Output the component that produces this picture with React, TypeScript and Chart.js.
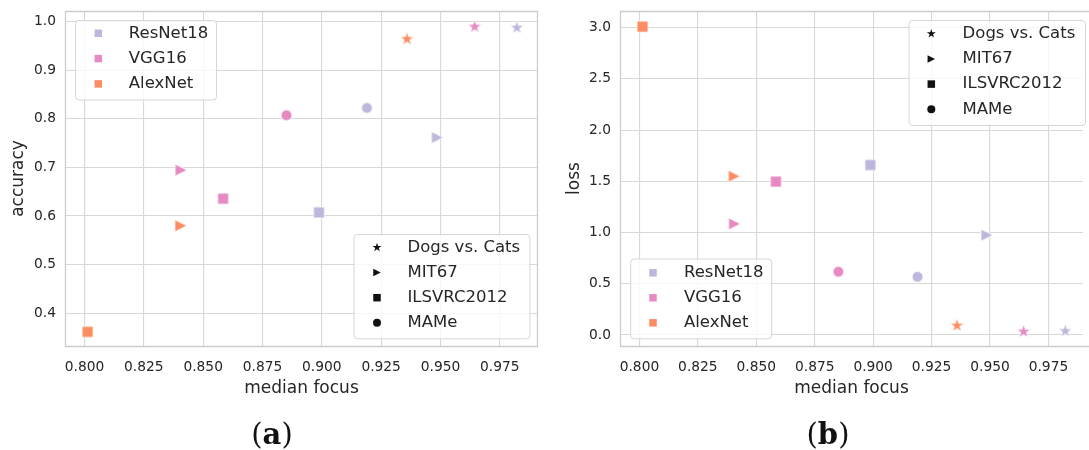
import React, { useEffect, useRef } from 'react';
import { Chart, registerables } from 'chart.js';

Chart.register(...registerables);

// ---------- data ----------
const modelNames = ['ResNet18', 'VGG16', 'AlexNet'];
const modelColors = ['#bcb8dc', '#e78ac3', '#fc8d62'];
const datasetNames = ['Dogs vs. Cats', 'MIT67', 'ILSVRC2012', 'MAMe'];
const datasetMarkers = ['star', 'triangleRight', 'square', 'circle'];

// values ordered like datasetNames (AlexNet has no MAMe run)
const resnetFocus = [0.9822, 0.9487, 0.8988, 0.919];
const vggFocus = [0.9644, 0.8407, 0.8584, 0.8851];
const alexFocus = [0.9359, 0.8406, 0.8013];

const resnetAccuracy = [0.9877, 0.7616, 0.6075, 0.8226];
const vggAccuracy = [0.9897, 0.6945, 0.6357, 0.8075];
const alexAccuracy = [0.9643, 0.58, 0.3616];

const resnetLoss = [0.039, 0.974, 1.659, 0.568];
const vggLoss = [0.0325, 1.085, 1.497, 0.617];
const alexLoss = [0.091, 1.549, 3.01];

const focusTicks = [0.8, 0.825, 0.85, 0.875, 0.9, 0.925, 0.95, 0.975];
const accuracyTicks = [0.4, 0.5, 0.6, 0.7, 0.8, 0.9, 1.0];
const lossTicks = [0, 0.5, 1.0, 1.5, 2.0, 2.5, 3.0];

// ---------- styles ----------
const FONT = '"DejaVu Sans", "Noto Sans", sans-serif';
const TEXT = '#262626';
const GRID = '#d8d8d8';
const FRAME = '#cccccc';
const TICK_SIZE = 13.8;
const pointSize: Record<string, number> = { star: 15, triangleRight: 12, square: 11, circle: 10.8 };
const legendSize: Record<string, number> = { star: 9.5, triangleRight: 7.5, square: 7.5, circle: 8 };

function tracePath(ctx: CanvasRenderingContext2D, shape: string, cx: number, cy: number, ms: number) {
  const r = ms / 2;
  ctx.beginPath();
  if (shape === 'circle') {
    ctx.arc(cx, cy, r, 0, Math.PI * 2);
  } else if (shape === 'square') {
    ctx.rect(cx - r, cy - r, ms, ms);
  } else if (shape === 'triangleRight') {
    ctx.moveTo(cx + r, cy);
    ctx.lineTo(cx - r, cy - r);
    ctx.lineTo(cx - r, cy + r);
    ctx.closePath();
  } else {
    const inner = r * 0.381966;
    for (let i = 0; i < 10; i++) {
      const rad = i % 2 === 0 ? r : inner;
      const a = -Math.PI / 2 + (i * Math.PI) / 5;
      const px = cx + rad * Math.cos(a);
      const py = cy + rad * Math.sin(a);
      if (i === 0) ctx.moveTo(px, py);
      else ctx.lineTo(px, py);
    }
    ctx.closePath();
  }
}

function makeMarker(shape: string, color: string, ms: number, edge: number): HTMLCanvasElement {
  const size = Math.ceil(ms + edge * 2 + 4);
  const c = document.createElement('canvas');
  c.width = size;
  c.height = size;
  const ctx = c.getContext('2d')!;
  tracePath(ctx, shape, size / 2, size / 2, ms);
  ctx.fillStyle = color;
  ctx.fill();
  if (edge > 0) {
    ctx.lineWidth = edge;
    ctx.strokeStyle = '#ffffff';
    ctx.stroke();
  }
  return c;
}

function buildDatasets(focusLists: number[][], valueLists: number[][]) {
  return modelNames.map((name, m) => ({
    label: name,
    data: focusLists[m].map((x, i) => ({ x, y: valueLists[m][i] })),
    pointStyle: focusLists[m].map((_, i) =>
      makeMarker(datasetMarkers[i], modelColors[m], pointSize[datasetMarkers[i]], 0.8)
    ),
    pointRadius: 5,
    pointHoverRadius: 5,
    showLine: false,
  }));
}

type LegendBox = {
  left: number; top: number; right: number; bottom: number;
  markerX: number; textX: number; firstY: number; gap: number;
  items: { label: string; shape: string; color: string }[];
};

function roundRect(ctx: CanvasRenderingContext2D, x: number, y: number, w: number, h: number, r: number) {
  ctx.beginPath();
  ctx.moveTo(x + r, y);
  ctx.arcTo(x + w, y, x + w, y + h, r);
  ctx.arcTo(x + w, y + h, x, y + h, r);
  ctx.arcTo(x, y + h, x, y, r);
  ctx.arcTo(x, y, x + w, y, r);
  ctx.closePath();
}

function overlayPlugin(boxes: LegendBox[], rightFrame: boolean) {
  return {
    id: 'overlay',
    afterDatasetsDraw(chart: any) {
      const ctx: CanvasRenderingContext2D = chart.ctx;
      const ca = chart.chartArea;
      ctx.save();
      ctx.strokeStyle = FRAME;
      ctx.lineWidth = 1.3;
      ctx.beginPath();
      const l = Math.round(ca.left) + 0.5;
      const t = Math.round(ca.top) + 0.5;
      const b = Math.round(ca.bottom) + 0.5;
      const r = rightFrame ? Math.round(ca.right) - 0.5 : chart.width + 2;
      ctx.moveTo(r, t);
      ctx.lineTo(l, t);
      ctx.lineTo(l, b);
      ctx.lineTo(r, b);
      if (rightFrame) ctx.closePath();
      ctx.stroke();

      for (const bx of boxes) {
        roundRect(ctx, bx.left + 0.5, bx.top + 0.5, bx.right - bx.left, bx.bottom - bx.top, 3.5);
        ctx.fillStyle = 'rgba(255,255,255,0.82)';
        ctx.fill();
        ctx.strokeStyle = '#d6d6d6';
        ctx.lineWidth = 1;
        ctx.stroke();
        bx.items.forEach((it, i) => {
          const y = bx.firstY + i * bx.gap;
          tracePath(ctx, it.shape, bx.markerX, y, legendSize[it.shape]);
          ctx.fillStyle = it.color;
          ctx.fill();
          ctx.font = `16.5px ${FONT}`;
          ctx.fillStyle = TEXT;
          ctx.textAlign = 'left';
          ctx.textBaseline = 'middle';
          ctx.fillText(it.label, bx.textX, y);
        });
      }
      ctx.restore();
    },
  };
}

const modelItems = () => modelNames.map((label, i) => ({ label, shape: 'square', color: modelColors[i] }));
const datasetItems = () => datasetNames.map((label, i) => ({ label, shape: datasetMarkers[i], color: '#111111' }));

function makeConfig(opts: {
  values: number[][]; yTicks: number[]; yTitle: string; yMin: number; yMax: number;
  xMin: number; xMax: number; yWidth: number; padRight: number; titlePad: number;
  boxes: LegendBox[]; rightFrame: boolean;
}): any {
  return {
    type: 'scatter',
    data: { datasets: buildDatasets([resnetFocus, vggFocus, alexFocus], opts.values) },
    options: {
      animation: false,
      responsive: false,
      maintainAspectRatio: false,
      layout: { padding: { top: 11, right: opts.padRight, left: 0, bottom: 0 } },
      plugins: { legend: { display: false }, tooltip: { enabled: false } },
      scales: {
        x: {
          type: 'linear',
          position: 'bottom',
          min: opts.xMin,
          max: opts.xMax,
          afterBuildTicks: (s: any) => { s.ticks = focusTicks.map((v) => ({ value: v })); },
          afterFit: (s: any) => {
            s.height = 54;
            s.paddingLeft = 0; s.paddingRight = 0; s.paddingTop = 0; s.paddingBottom = 0;
          },
          grid: { color: GRID, lineWidth: 1.1, drawTicks: false },
          border: { display: false },
          ticks: {
            color: TEXT, font: { family: FONT, size: TICK_SIZE }, padding: 13,
            maxRotation: 0, autoSkip: false,
            callback: (v: any) => Number(v).toFixed(3),
          },
          title: {
            display: true, text: 'median focus', color: TEXT,
            font: { family: FONT, size: 17 }, padding: { top: 0, bottom: 1 },
          },
        },
        y: {
          type: 'linear',
          position: 'left',
          min: opts.yMin,
          max: opts.yMax,
          afterBuildTicks: (s: any) => { s.ticks = opts.yTicks.map((v) => ({ value: v })); },
          afterFit: (s: any) => {
            s.width = opts.yWidth;
            s.paddingLeft = 0; s.paddingRight = 0; s.paddingTop = 0; s.paddingBottom = 0;
          },
          grid: { color: GRID, lineWidth: 1.1, drawTicks: false },
          border: { display: false },
          ticks: {
            color: TEXT, font: { family: FONT, size: TICK_SIZE }, padding: 9,
            autoSkip: false,
            callback: (v: any) => Number(v).toFixed(1),
          },
          title: {
            display: true, text: opts.yTitle, color: TEXT,
            font: { family: FONT, size: 17 }, padding: { top: opts.titlePad, bottom: 0 },
          },
        },
      },
    },
    plugins: [overlayPlugin(opts.boxes, opts.rightFrame)],
  };
}

export default function App() {
  const refA = useRef<HTMLCanvasElement>(null);
  const refB = useRef<HTMLCanvasElement>(null);

  useEffect(() => {
    const cfgA = makeConfig({
      values: [resnetAccuracy, vggAccuracy, alexAccuracy],
      yTicks: accuracyTicks, yTitle: 'accuracy', yMin: 0.3325, yMax: 1.022,
      xMin: 0.79178, xMax: 0.9911, yWidth: 65, padRight: 7, titlePad: 8, rightFrame: true,
      boxes: [
        { left: 75, top: 20, right: 216, bottom: 99.5, markerX: 98.3, textX: 128.8, firstY: 33.3, gap: 25.3, items: modelItems() },
        { left: 353.5, top: 234, right: 529.4, bottom: 338.3, markerX: 377, textX: 407.5, firstY: 247.5, gap: 25.1, items: datasetItems() },
      ],
    });
    const cfgB = makeConfig({
      values: [resnetLoss, vggLoss, alexLoss],
      yTicks: lossTicks, yTitle: 'loss', yMin: -0.108, yMax: 3.163,
      xMin: 0.79168, xMax: 0.98979, yWidth: 75, padRight: 0, titlePad: 19.5, rightFrame: false,
      boxes: [
        { left: 363.5, top: 20, right: 540, bottom: 125, markerX: 386.3, textX: 417.6, firstY: 33.7, gap: 25.2, items: datasetItems() },
        { left: 85.2, top: 258.5, right: 226.2, bottom: 338.3, markerX: 108, textX: 139, firstY: 272.8, gap: 25, items: modelItems() },
      ],
    });
    const a = new Chart(refA.current!, cfgA);
    const b = new Chart(refB.current!, cfgB);
    return () => { a.destroy(); b.destroy(); };
  }, []);

  return (
    <div style={{ position: 'fixed', left: 0, top: 0, width: 1089, height: 450, background: '#ffffff', overflow: 'hidden' }}>
      <canvas ref={refA} width={545} height={400} style={{ position: 'absolute', left: 0, top: 0 }} />
      <canvas ref={refB} width={544} height={400} style={{ position: 'absolute', left: 545, top: 0 }} />
      <svg width={1089} height={450} style={{ position: 'absolute', left: 0, top: 0, pointerEvents: 'none' }}>
        <text x={272} y={444} textAnchor="middle" fontFamily='"DejaVu Serif", serif' fontSize={29} fill="#111">
          (<tspan fontWeight="bold">a</tspan>)
        </text>
        <text x={828} y={444} textAnchor="middle" fontFamily='"DejaVu Serif", serif' fontSize={29} fill="#111">
          (<tspan fontWeight="bold">b</tspan>)
        </text>
      </svg>
    </div>
  );
}
